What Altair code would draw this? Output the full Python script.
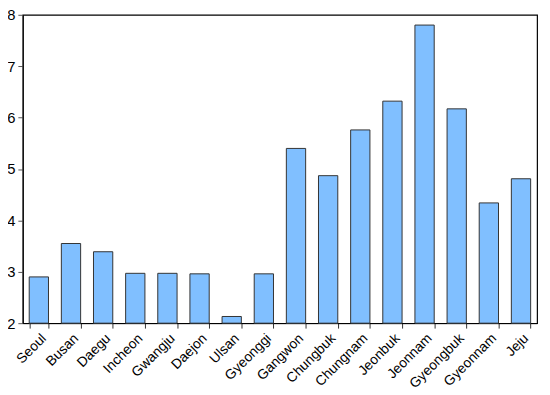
import altair as alt
import pandas as pd

regions = ["Seoul", "Busan", "Daegu", "Incheon", "Gwangju", "Daejon", "Ulsan", "Gyeonggi",
           "Gangwon", "Chungbuk", "Chungnam", "Jeonbuk", "Jeonnam", "Gyeongbuk", "Gyeonnam", "Jeju"]
values = [2.90, 3.55, 3.39, 2.97, 2.97, 2.96, 2.13, 2.96,
          5.40, 4.87, 5.76, 6.32, 7.80, 6.17, 4.34, 4.81]

df = pd.DataFrame({"region": regions, "value": values})

chart = alt.Chart(df).mark_bar(
    fill="#80BFFF", stroke="#333333", strokeWidth=1
).encode(
    x=alt.X("region:N", sort=regions, title=None,
            scale=alt.Scale(paddingInner=0.4, paddingOuter=0.2),
            axis=alt.Axis(labelAngle=-45, labelAlign="right", labelBaseline="top",
                          labelFontSize=14, labelFont="Liberation Sans", labelColor="black",
                          tickBand="extent", tickSize=5, tickColor="#333333",
                          domainColor="black", labelPadding=3)),
    y=alt.Y("value:Q", title=None,
            scale=alt.Scale(domain=[2, 8], zero=False, nice=False),
            axis=alt.Axis(values=[2, 3, 4, 5, 6, 7, 8], format="d", grid=False,
                          labelFontSize=15, labelFont="Liberation Sans", labelColor="black",
                          tickSize=5, tickColor="#555555", domainColor="black",
                          labelPadding=3)),
    y2=alt.datum(2),
).properties(
    width=522, height=313,
    autosize=alt.AutoSizeParams(type="none"),
    padding={"left": 15, "top": 4, "right": 5, "bottom": 70},
).configure_view(
    stroke="black", strokeWidth=1.2
)

chart.save("out.html", embed_options={"renderer": "svg", "actions": False})
